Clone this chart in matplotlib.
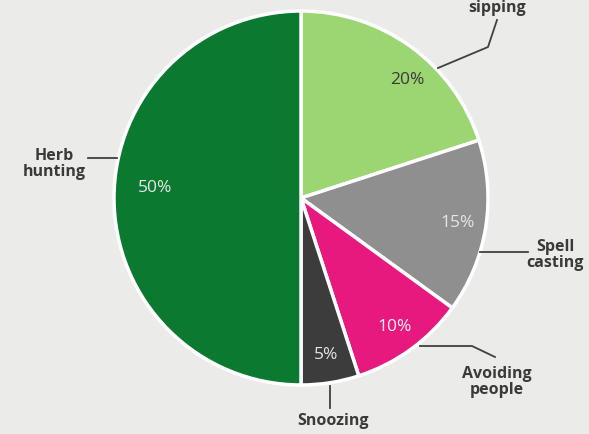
import matplotlib
matplotlib.use("Agg")
import matplotlib.pyplot as plt

categories = ["sipping", "Spell\ncasting", "Avoiding\npeople", "Snoozing", "Herb\nhunting"]
values = [20, 15, 10, 5, 50]
colors = ["#9bd672", "#8f8f8f", "#e8197e", "#3c3c3c", "#0b7a30"]
pct_colors = ["#3a3a3a", "#e6e6e6", "#f2f2f2", "#e6e6e6", "#e6e6e6"]

W, H = 589, 434
bg = "#ebebe9"
fig = plt.figure(figsize=(W / 100, H / 100), dpi=100, facecolor=bg)
ax = fig.add_axes([0, 0, 1, 1])
ax.set_facecolor(bg)
ax.set_xlim(0, W)
ax.set_ylim(0, H)
ax.set_aspect("equal")
ax.axis("off")

cx, cy, r = 301, H - 198, 187
wedges, texts, autotexts = ax.pie(
    values, colors=colors, startangle=90, counterclock=False,
    center=(cx, cy), radius=r, autopct=lambda p: f"{p:.0f}%",
    pctdistance=0.85,
    wedgeprops=dict(edgecolor="white", linewidth=2.5),
    textprops=dict(fontsize=12.5, family="Open Sans", fontweight="medium"),
)
ax.set_xlim(0, W)
ax.set_ylim(0, H)
for t, c in zip(autotexts, pct_colors):
    t.set_color(c)
autotexts[4].set_position((cx - 146, cy + 10))
autotexts[0].set_position((cx + 106, cy + 118))

lc = "#404040"
txt = dict(fontsize=11.5, family="Open Sans", fontweight="bold", color="#3a3a3a",
           ha="center", va="center", linespacing=1.0)

def y(p):
    return H - p

# sipping
ax.plot([438, 488, 497], [y(68), y(47), y(20)], color=lc, lw=1.3)
ax.text(497, y(8), categories[0], **txt)
# spell casting
ax.plot([480, 528], [y(252), y(252)], color=lc, lw=1.3)
ax.text(555, y(255), categories[1], **txt)
# avoiding people
ax.plot([420, 472, 495], [y(346), y(346), y(357)], color=lc, lw=1.3)
ax.text(497, y(382), categories[2], **txt)
# snoozing
ax.plot([330, 330], [y(386), y(408)], color=lc, lw=1.3)
ax.text(333, y(421), categories[3], **txt)
# herb hunting
ax.plot([88, 117], [y(158), y(158)], color=lc, lw=1.3)
ax.text(54, y(164), categories[4], **txt)

fig.savefig("out.png", dpi=100, facecolor=bg)
